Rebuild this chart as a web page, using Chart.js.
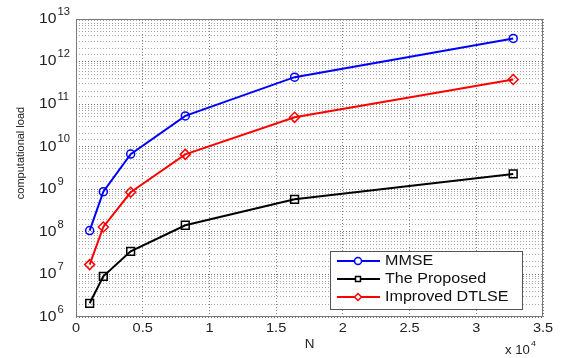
<!DOCTYPE html>
<html>
<head>
<meta charset="utf-8">
<script src="https://cdn.jsdelivr.net/npm/chart.js@4.4.0/dist/chart.umd.min.js"></script>
<style>
  html, body { margin: 0; padding: 0; background: #fff; }
  #wrap { width: 563px; height: 358px; }
</style>
</head>
<body>
<div id="wrap"><canvas id="loadChart"></canvas></div>
<script>
// values
const sizesN = [1024, 2048, 4096, 8192, 16384, 32768];
const mmseLoad = [1.07e8, 8.8e8, 6.7e9, 5.3e10, 4.3e11, 3.5e12];
const proposedLoad = [2.1e6, 9.0e6, 3.5e7, 1.43e8, 5.8e8, 2.3e9];
const dtlseLoad = [1.7e7, 1.3e8, 8.5e8, 6.6e9, 4.9e10, 3.8e11];
const seriesNames = ['MMSE', 'The Proposed', 'Improved DTLSE'];
const xTickLabels = ['0', '0.5', '1', '1.5', '2', '2.5', '3', '3.5'];
const yTickExponents = ['6', '7', '8', '9', '10', '11', '12', '13'];

const FONT = 'Arial, "Liberation Sans", Helvetica, sans-serif';

function pts(ys) {
  return sizesN.map(function(n, i) { return { x: n, y: ys[i] }; });
}

// the original image is a bit stretched sideways, so text is too
function stretchText(c, txt, x, y, size, align, sx) {
  c.save();
  c.font = size + 'px ' + FONT;
  c.textAlign = align;
  c.textBaseline = 'middle';
  c.translate(x, y);
  c.scale(sx, 1);
  c.fillText(txt, 0, 0);
  const w = c.measureText(txt).width * sx;
  c.restore();
  return w;
}

function isMajor(v) {
  const l = Math.log10(v);
  return Math.abs(l - Math.round(l)) < 1e-6;
}

// MATLAB-ish frame, tick labels, titles and legend
const matlabDecor = {
  id: 'matlabDecor',
  afterDraw: function(chart) {
    const c = chart.ctx;
    const a = chart.chartArea;
    const xs = chart.scales.x, ys = chart.scales.y;
    c.save();
    c.strokeStyle = '#7a7a7a';
    c.lineWidth = 1;
    c.setLineDash([]);
    c.strokeRect(a.left + 0.5, a.top + 0.5, a.right - a.left - 1, a.bottom - a.top - 1);

    c.fillStyle = '#222';
    // x tick labels
    xTickLabels.forEach(function(t) {
      stretchText(c, t, xs.getPixelForValue(parseFloat(t) * 1e4), a.bottom + 11, 13, 'center', 1.12);
    });
    // y tick labels 10^k
    yTickExponents.forEach(function(e) {
      const py = ys.getPixelForValue(Math.pow(10, +e));
      const w = stretchText(c, '10', 39, py, 14, 'left', 1.12);
      stretchText(c, e, 39 + w + 1, py - 7, 10, 'left', 1.12);
    });
    // axis titles
    stretchText(c, 'N', (a.left + a.right) / 2, 345, 12, 'center', 1.12);
    const w10 = stretchText(c, 'x 10', 505, 351, 12, 'left', 1.1);
    stretchText(c, '4', 505 + w10 + 1, 344, 8, 'left', 1.1);
    c.save();
    c.translate(21, 153);
    c.rotate(-Math.PI / 2);
    c.font = '11px ' + FONT;
    c.textAlign = 'center';
    c.textBaseline = 'middle';
    c.fillText('computational load', 0, 0);
    c.restore();

    // legend box
    const lx = 330, ly = 251, lw = 192, lh = 58;
    c.fillStyle = '#fff';
    c.fillRect(lx, ly, lw, lh);
    c.strokeStyle = '#555';
    c.strokeRect(lx + 0.5, ly + 0.5, lw, lh);
    const rows = [261, 279, 297];
    chart.data.datasets.forEach(function(ds, i) {
      const y = rows[i];
      c.strokeStyle = ds.borderColor;
      c.lineWidth = 2;
      c.beginPath();
      c.moveTo(337, y);
      c.lineTo(380, y);
      c.stroke();
      c.fillStyle = '#fff';
      c.lineWidth = 1.5;
      Chart.helpers.drawPoint(c, { pointStyle: ds.pointStyle, radius: 3.5, borderWidth: 1.5 }, 358, y);
      c.fillStyle = '#111';
      stretchText(c, ds.label, 385, y + 0.5, 14, 'left', 1.15);
    });
    c.restore();
  }
};

new Chart(document.getElementById('loadChart'), {
  type: 'line',
  data: {
    datasets: [{
      label: seriesNames[0],
      data: pts(mmseLoad),
      borderColor: '#0000ff',
      borderWidth: 2,
      pointStyle: 'circle',
      pointRadius: 4,
      pointBorderWidth: 1.5,
      pointBackgroundColor: 'transparent',
      pointBorderColor: '#0000ff'
    }, {
      label: seriesNames[1],
      data: pts(proposedLoad),
      borderColor: '#000000',
      borderWidth: 2,
      pointStyle: 'rect',
      pointRadius: 5.5,
      pointBorderWidth: 1.5,
      pointBackgroundColor: 'transparent',
      pointBorderColor: '#000000'
    }, {
      label: seriesNames[2],
      data: pts(dtlseLoad),
      borderColor: '#ff0000',
      borderWidth: 2,
      pointStyle: 'rectRot',
      pointRadius: 5,
      pointBorderWidth: 1.5,
      pointBackgroundColor: 'transparent',
      pointBorderColor: '#ff0000'
    }]
  },
  options: {
    responsive: true,
    maintainAspectRatio: false,
    animation: false,
    elements: { line: { tension: 0 } },
    layout: { padding: { left: 0, right: 20, top: 19, bottom: 0 } },
    plugins: { legend: { display: false }, tooltip: { enabled: false } },
    scales: {
      x: {
        type: 'linear',
        min: 0,
        max: 35000,
        afterFit: function(s) { s.height = 41; },
        ticks: { display: false, stepSize: 5000 },
        border: { display: false, dash: [1, 2] },
        grid: { color: '#808080', drawTicks: false }
      },
      y: {
        type: 'logarithmic',
        min: 1e6,
        max: 1e13,
        afterFit: function(s) { s.width = 76; },
        ticks: { display: false, autoSkip: false },
        border: { display: false, dash: [1, 2] },
        grid: {
          drawTicks: false,
          color: function(ctx) {
            return ctx.tick && isMajor(ctx.tick.value) ? '#707070' : '#a8a8a8';
          }
        }
      }
    }
  },
  plugins: [matlabDecor]
});
</script>
</body>
</html>
